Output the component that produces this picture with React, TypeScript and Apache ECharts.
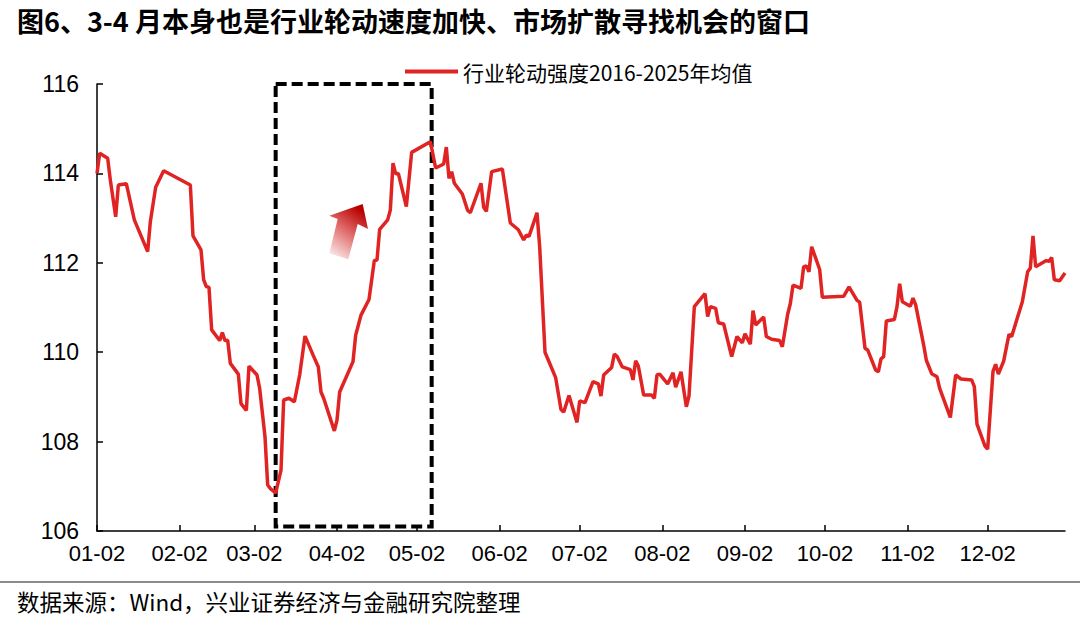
import React, { useEffect, useRef } from "react";
import * as echarts from "echarts";

const titleText = "图6、3-4 月本身也是行业轮动速度加快、市场扩散寻找机会的窗口";
const sourceText = "数据来源：Wind，兴业证券经济与金融研究院整理";
const seriesName = "行业轮动强度2016-2025年均值";

// x tick positions: days since 01-02 (non-leap calendar)
const tickDays = [0, 31, 59, 90, 120, 151, 181, 212, 243, 273, 304, 334];
const tickLabels = ["01-02", "02-02", "03-02", "04-02", "05-02", "06-02", "07-02", "08-02", "09-02", "10-02", "11-02", "12-02"];

// observation day offsets (days since 01-02)
const dayOffsets = [
  0, 1, 4, 5, 7, 8, 11, 14, 19, 20,
  22, 25, 35, 36, 39, 40, 41, 42, 43, 46,
  47, 48, 49, 50, 53, 54, 56, 57, 60, 61,
  63, 64, 65, 67, 69, 70, 72, 74, 76, 78,
  81, 83, 84, 85, 89, 90, 91, 96, 97, 99,
  102, 104, 105, 106, 109, 110, 111, 112, 113, 116,
  118, 125, 127, 130, 131, 132, 133, 134, 137, 139,
  140, 144, 145, 146, 148, 152, 155, 158, 160, 161,
  162, 165, 166, 168, 172, 174, 175, 177, 180, 181,
  183, 186, 188, 189, 190, 193, 194, 195, 197, 200,
  201, 202, 203, 205, 208, 209, 210, 211, 214, 216,
  217, 219, 221, 222, 224, 228, 229, 230, 232, 233,
  235, 238, 240, 242, 243, 245, 246, 247, 250, 251,
  253, 256, 257, 259, 260, 261, 264, 265, 266, 267,
  268, 271, 272, 280, 282, 285, 286, 288, 289, 292,
  293, 294, 295, 296, 299, 300, 301, 302, 305, 306,
  307, 310, 311, 313, 315, 316, 320, 322, 324, 328,
  329, 330, 333, 334, 336, 337, 338, 340, 342, 343,
  347, 349, 350, 351, 352, 356, 357, 358, 359, 361,
  363,
];

const strength = [
  114.0, 114.45, 114.34, 113.85, 113.03, 113.74, 113.77, 112.96, 112.25, 112.92,
  113.69, 114.06, 113.74, 112.6, 112.29, 111.62, 111.47, 111.45, 110.5, 110.26,
  110.44, 110.26, 110.27, 109.75, 109.51, 108.85, 108.7, 109.69, 109.49, 109.19,
  108.11, 107.03, 106.95, 106.85, 107.36, 108.93, 108.97, 108.89, 109.49, 110.36,
  109.94, 109.67, 109.11, 108.97, 108.24, 108.48, 109.11, 109.79, 110.38, 110.83,
  111.18, 112.05, 112.06, 112.75, 112.96, 113.18, 114.23, 113.99, 114.0, 113.26,
  114.47, 114.71, 114.12, 114.21, 114.59, 113.89, 114.04, 113.78, 113.54, 113.17,
  113.12, 113.78, 113.24, 113.15, 114.04, 114.1, 112.89, 112.74, 112.51, 112.62,
  112.59, 113.12, 112.36, 110.0, 109.43, 108.72, 108.66, 109.03, 108.43, 108.91,
  108.87, 109.34, 109.29, 109.02, 109.49, 109.66, 109.96, 109.91, 109.67, 109.61,
  109.38, 109.81, 109.69, 109.04, 109.04, 108.97, 109.49, 109.51, 109.29, 109.54,
  109.22, 109.56, 108.78, 109.02, 111.02, 111.31, 110.8, 111.02, 110.98, 110.66,
  110.63, 109.9, 110.35, 110.21, 110.41, 110.18, 110.93, 110.61, 110.79, 110.35,
  110.29, 110.26, 110.12, 110.85, 111.09, 111.5, 111.43, 111.91, 111.93, 111.8,
  112.36, 111.85, 111.23, 111.25, 111.46, 111.16, 111.12, 110.09, 110.05, 109.6,
  109.56, 109.85, 109.9, 110.7, 110.73, 111.02, 111.53, 111.13, 111.03, 111.21,
  111.06, 110.16, 109.82, 109.52, 109.45, 109.19, 108.54, 109.49, 109.4, 109.38,
  109.23, 108.39, 107.9, 107.83, 109.57, 109.73, 109.51, 109.8, 110.4, 110.35,
  111.13, 111.8, 111.88, 112.6, 111.91, 112.05, 112.03, 112.12, 111.62, 111.6,
  111.77,
];

// highlighted window (days since 01-02, index value range)
const windowStartDay = 67;
const windowEndDay = 125.5;
const windowLow = 106.1;
const windowHigh = 116;

const CJK = '"Noto Sans CJK SC", "Noto Sans", sans-serif';
const NUM = '"Liberation Sans", Arial, sans-serif';

export default function App() {
  const ref = useRef<HTMLDivElement>(null);

  useEffect(() => {
    document.body.style.margin = "0";
    if (!ref.current) return;
    const chart = echarts.init(ref.current, undefined, { renderer: "svg" });
    const n = Math.min(dayOffsets.length, strength.length);
    const data = [];
    for (let i = 0; i < n; i++) data.push([dayOffsets[i], strength[i]]);

    chart.setOption({
      animation: false,
      backgroundColor: "#ffffff",
      title: {
        text: titleText,
        left: 12,
        top: 2,
        textStyle: { fontFamily: CJK, fontSize: 27, fontWeight: "bold", color: "#000" },
      },
      legend: {
        data: [{ name: seriesName, icon: "rect" }],
        left: 400,
        top: 56,
        itemWidth: 53,
        itemHeight: 4,
        itemGap: 6,
        textStyle: { fontFamily: CJK, fontSize: 21, color: "#000" },
      },
      grid: { left: 97, right: 15, top: 84, bottom: 88 },
      xAxis: {
        type: "value",
        min: 0,
        max: 363,
        splitLine: { show: false },
        axisLine: { lineStyle: { color: "#000", width: 1.5 } },
        axisTick: { inside: true, length: 6, customValues: tickDays, lineStyle: { color: "#000", width: 1.5 } },
        axisLabel: {
          customValues: tickDays,
          margin: 11,
          fontFamily: NUM,
          fontSize: 22,
          color: "#000",
          formatter: (v: number) => {
            const idx = tickDays.indexOf(Math.round(v));
            return idx >= 0 ? tickLabels[idx] : "";
          },
        },
      },
      yAxis: {
        type: "value",
        min: 106,
        max: 116,
        interval: 2,
        splitLine: { show: false },
        axisLine: { show: true, lineStyle: { color: "#000", width: 1.5 } },
        axisTick: { show: true, inside: true, length: 6, lineStyle: { color: "#000", width: 1.5 } },
        axisLabel: { margin: 18, fontFamily: NUM, fontSize: 23, color: "#000" },
      },
      series: [
        {
          name: seriesName,
          type: "line",
          data,
          showSymbol: false,
          symbol: "none",
          color: "#e02424",
          lineStyle: { color: "#e02424", width: 3.5 },
          markArea: {
            silent: true,
            itemStyle: { color: "rgba(0,0,0,0)", borderColor: "#000", borderWidth: 4, borderType: [11, 5] },
            data: [[{ xAxis: windowStartDay, yAxis: windowHigh }, { xAxis: windowEndDay, yAxis: windowLow }]],
          },
        },
      ],
      graphic: [
        {
          type: "polygon",
          shape: {
            points: [
              [362.7, 204],
              [368, 229],
              [357.7, 224],
              [348.3, 259.3],
              [329.3, 253.3],
              [337.7, 219],
              [329.3, 215.7],
            ],
          },
          style: {
            fill: new echarts.graphic.LinearGradient(0.1, 1, 0.6, 0, [
              { offset: 0, color: "#fdf2f2" },
              { offset: 0.55, color: "#e06a6a" },
              { offset: 1, color: "#b80000" },
            ]),
          },
        },
        {
          type: "line",
          shape: { x1: 0, y1: 582, x2: 1080, y2: 582 },
          style: { stroke: "#666", lineWidth: 1.5 },
        },
        {
          type: "text",
          left: 17,
          top: 590,
          style: { text: sourceText, fontFamily: CJK, fontSize: 22.5, fill: "#000" },
        },
      ],
    });
    return () => chart.dispose();
  }, []);

  return <div ref={ref} style={{ width: 1080, height: 619 }} />;
}
